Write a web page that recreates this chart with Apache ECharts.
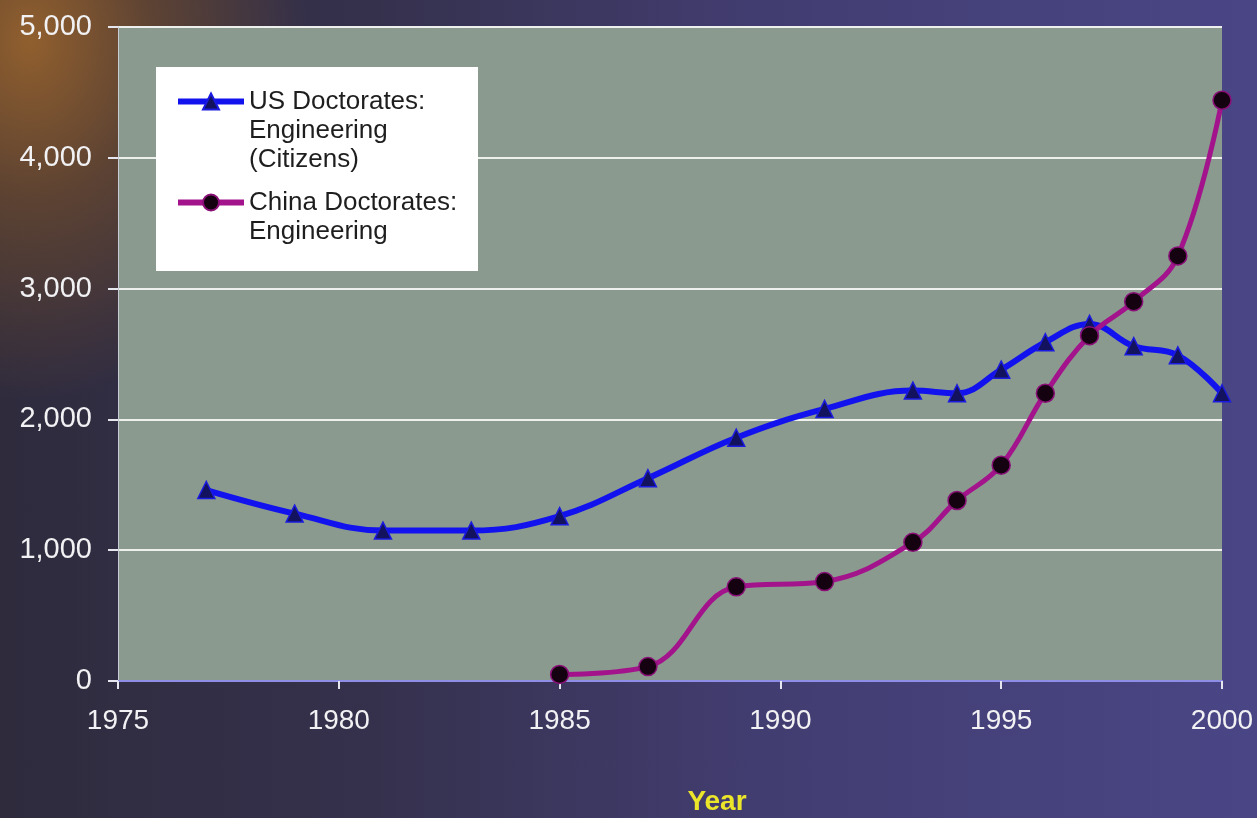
<!DOCTYPE html>
<html>
<head>
<meta charset="utf-8">
<script src="https://cdn.jsdelivr.net/npm/echarts@6/dist/echarts.min.js"></script>
<style>
  html, body {
    margin: 0;
    padding: 0;
    width: 1257px;
    height: 818px;
    overflow: hidden;
    background:
      radial-gradient(ellipse 280px 360px at 30px 40px, rgba(150, 98, 45, 0.95) 0%, rgba(110, 75, 45, 0.7) 45%, rgba(60, 50, 55, 0) 100%),
      linear-gradient(to right, #2f2b3d 0%, #35314d 30%, #423d70 60%, #4a4686 100%);
  }
  #chart {
    width: 1257px;
    height: 818px;
  }
</style>
</head>
<body>
<div id="chart"></div>
<script>
// years and values
var usYears = [1977, 1979, 1981, 1983, 1985, 1987, 1989, 1991, 1993, 1994, 1995, 1996, 1997, 1998, 1999, 2000];
var usValues = [1460, 1280, 1150, 1150, 1260, 1550, 1860, 2080, 2220, 2200, 2380, 2590, 2730, 2560, 2490, 2200];

var chinaYears = [1985, 1987, 1989, 1991, 1993, 1994, 1995, 1996, 1997, 1998, 1999, 2000];
var chinaValues = [50, 110, 720, 760, 1060, 1380, 1650, 2200, 2640, 2900, 3250, 4440];

var usName = "US Doctorates:\nEngineering\n(Citizens)";
var chinaName = "China Doctorates:\nEngineering";

function pairs(xs, ys) {
  var out = [];
  xs.map(function (x, i) {
    out.push([x, ys[i]]);
  });
  return out;
}

// blank lines above the name so its first line sits level with the icon
function topAligned(name) {
  var n = name.split("\n").length;
  return new Array(n).join("\n") + name;
}

var legendBase = {
  padding: 0,
  itemWidth: 66,
  itemHeight: 20,
  z: 10,
  formatter: topAligned,
  lineStyle: { width: 6 },
  textStyle: {
    color: "#1e1e1e",
    fontFamily: "Liberation Sans, Arial, sans-serif",
    fontSize: 26,
    lineHeight: 29
  }
};

var chart = echarts.init(document.getElementById("chart"));
chart.setOption({
  backgroundColor: "transparent",
  animation: false,
  graphic: [
    {
      type: "rect",
      left: 156,
      top: 67,
      shape: { width: 322, height: 204 },
      style: { fill: "#ffffff" },
      z: 5
    }
  ],
  legend: [
    Object.assign({ data: [usName], left: 175, top: 29 }, legendBase),
    Object.assign({ data: [chinaName], left: 175, top: 159 }, legendBase)
  ],
  grid: {
    left: 118,
    right: 35,
    top: 27,
    bottom: 137,
    outerBoundsMode: "none",
    show: true,
    backgroundColor: "#8a9a8e",
    borderWidth: 0
  },
  xAxis: {
    type: "value",
    min: 1975,
    max: 2000,
    interval: 5,
    name: "Year",
    nameLocation: "middle",
    nameGap: 107,
    nameTextStyle: {
      color: "#ece62a",
      fontWeight: "bold",
      fontSize: 28,
      fontFamily: "Liberation Sans, Arial, sans-serif",
      padding: [0, 0, 0, 94]
    },
    axisLine: { lineStyle: { color: "#8e8ee6", width: 2 } },
    axisTick: { show: true, length: 8, lineStyle: { color: "#e6e6ee", width: 2 } },
    axisLabel: {
      color: "#f2f2f4",
      fontSize: 28,
      margin: 26,
      fontFamily: "Liberation Sans, Arial, sans-serif",
      formatter: function (v) { return String(v); }
    },
    splitLine: { show: false }
  },
  yAxis: {
    type: "value",
    min: 0,
    max: 5000,
    interval: 1000,
    axisLine: { show: true, lineStyle: { color: "#c8ccd4", width: 1 } },
    axisTick: { show: true, length: 10, lineStyle: { color: "#e6e6ee", width: 2 } },
    axisLabel: {
      color: "#f2f2f4",
      fontSize: 29,
      margin: 26,
      fontFamily: "Liberation Sans, Arial, sans-serif",
      formatter: function (v) { return v.toLocaleString("en-US"); }
    },
    splitLine: { show: true, lineStyle: { color: "#eef0ee", width: 2 } }
  },
  series: [
    {
      name: usName,
      type: "line",
      smooth: 0.4,
      data: pairs(usYears, usValues),
      symbol: "triangle",
      symbolSize: 17,
      lineStyle: { color: "#1212ee", width: 6 },
      itemStyle: { color: "#12125e", borderColor: "#1a1ae0", borderWidth: 1.5 },
      z: 3
    },
    {
      name: chinaName,
      type: "line",
      smooth: 0.4,
      data: pairs(chinaYears, chinaValues),
      symbol: "circle",
      symbolSize: 18,
      lineStyle: { color: "#a3148c", width: 5 },
      itemStyle: { color: "#140210", borderColor: "#8a1078", borderWidth: 1.5 },
      z: 4
    }
  ]
});
</script>
</body>
</html>
